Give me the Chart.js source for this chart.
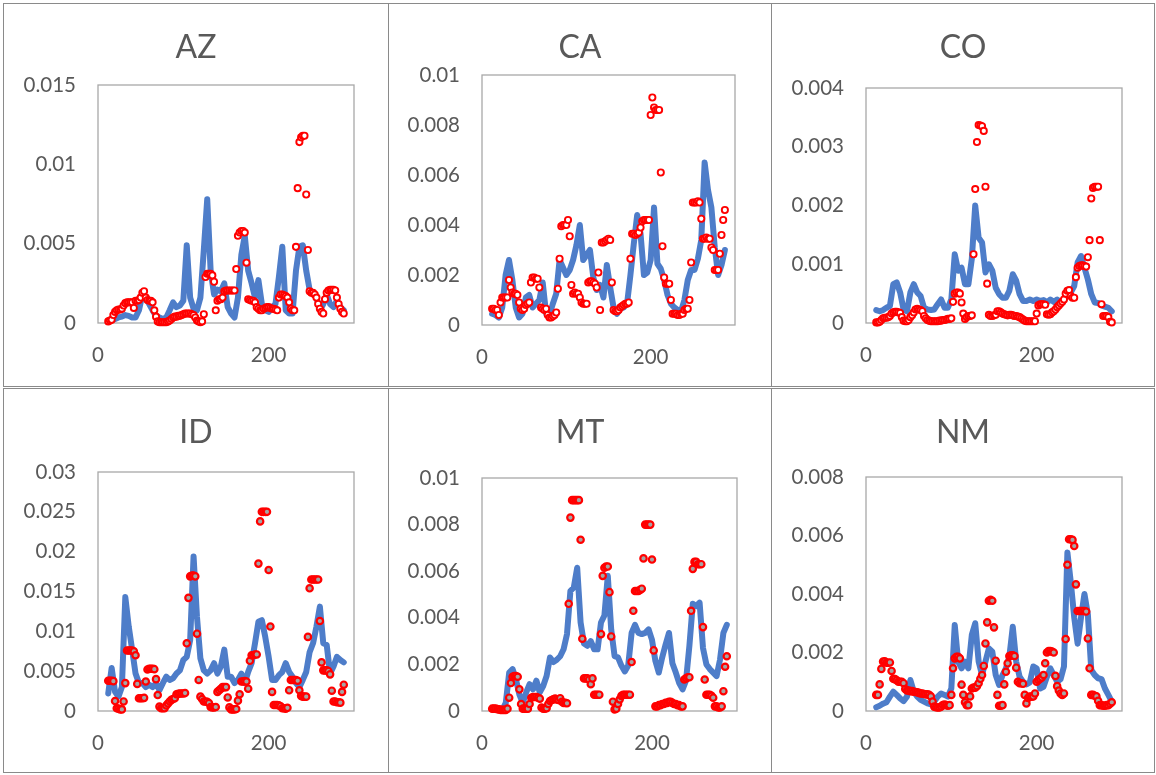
<!DOCTYPE html>
<html>
<head>
<meta charset="utf-8">
<script src="https://cdn.jsdelivr.net/npm/chart.js@4.4.1/dist/chart.umd.min.js"></script>
<style>
  html, body { margin: 0; padding: 0; background: #fff; }
  body { width: 1156px; height: 775px; position: relative; overflow: hidden; }
  .cell { position: absolute; box-sizing: border-box; border: 1px solid #8a8a8a; }
  .cell canvas { position: absolute; left: -1px; top: -1px; }
</style>
</head>
<body>
<div class="cell" style="left:3px;top:3px;width:386px;height:384px"><canvas id="az"></canvas></div>
<div class="cell" style="left:388px;top:3px;width:384px;height:384px"><canvas id="ca"></canvas></div>
<div class="cell" style="left:771px;top:3px;width:384px;height:384px"><canvas id="co"></canvas></div>
<div class="cell" style="left:3px;top:388px;width:386px;height:385px"><canvas id="id"></canvas></div>
<div class="cell" style="left:388px;top:388px;width:384px;height:385px"><canvas id="mt"></canvas></div>
<div class="cell" style="left:771px;top:388px;width:384px;height:385px"><canvas id="nm"></canvas></div>
<script>
// x = day of year. all y values below are in thousandths (the axis labels show the real numbers)
const lineDays = [12,16,20,24,28,32,36,40,44,48,52,56,60,64,68,72,76,80,84,88,
  92,96,100,104,108,112,116,120,124,128,132,136,140,144,148,152,156,160,164,168,
  172,176,180,184,188,192,196,200,204,208,212,216,220,224,228,232,236,240,244,248,
  252,256,260,264,268,272,276,280,284,288];
const markerDays = [12,14,16,18,20,22,24,26,28,30,32,34,36,38,40,42,44,46,48,50,
  52,54,56,58,60,62,64,66,68,70,72,74,76,78,80,82,84,86,88,90,
  92,94,96,98,100,102,104,106,108,110,112,114,116,118,120,122,124,126,128,130,
  132,134,136,138,140,142,144,146,148,150,152,154,156,158,160,162,164,166,168,170,
  172,174,176,178,180,182,184,186,188,190,192,194,196,198,200,202,204,206,208,210,
  212,214,216,218,220,222,224,226,228,230,232,234,236,238,240,242,244,246,248,250,
  252,254,256,258,260,262,264,266,268,270,272,274,276,278,280,282,284,286,288];
const xTicks = [0, 200];
const xMax = 300;

// AZ
const azLine = [0.1,0.2,0.25,0.35,0.4,0.5,0.45,0.35,0.35,0.8,
  1.8,1.6,1.2,0.8,0.45,0.35,0.25,0.35,0.8,1.3,
  1.0,1.1,1.4,4.9,1.6,0.9,0.8,1.6,4.6,7.8,
  3.3,1.8,2.1,2.0,2.5,1.0,0.6,0.35,1.6,4.3,
  5.5,3.3,2.5,1.6,2.7,1.2,0.8,0.7,1.0,1.2,
  2.9,4.8,0.8,0.6,0.6,3.3,4.8,4.9,3.3,2.1,
  1.9,1.6,0.8,1.2,1.8,1.2,1.0,1.4,1.0,0.8];
const azMarks = [0.1,0.15,0.2,0.5,0.7,0.8,0.85,0.85,0.9,1.1,
  1.25,1.3,1.3,1.3,1.3,0.95,1.4,1.4,1.45,1.6,
  1.9,2.0,1.6,1.45,1.4,1.4,1.3,0.8,0.4,0.1,
  0.05,0.05,0.05,0.05,0.05,0.1,0.15,0.25,0.35,0.4,
  0.4,0.45,0.45,0.5,0.55,0.6,0.6,0.6,0.6,0.55,
  0.5,0.35,0.15,0.1,0.05,0.1,0.55,2.9,3.1,3.1,
  3.1,3.0,2.6,0.8,1.4,1.5,1.5,1.6,2.0,2.05,
  2.05,2.05,2.05,2.05,2.05,3.4,5.5,5.7,5.8,5.8,
  5.7,3.8,1.5,1.45,1.4,1.4,1.3,1.0,0.9,0.8,
  0.8,0.9,0.95,1.0,1.0,0.95,0.9,0.9,0.85,0.8,
  1.6,1.8,1.8,1.75,1.7,1.6,1.3,0.9,0.8,0.8,
  4.8,8.5,11.4,11.7,11.8,11.8,8.1,4.6,2.0,1.9,
  1.9,1.8,1.6,1.2,0.9,0.7,0.6,1.5,1.9,2.05,
  2.1,2.1,2.1,2.05,1.6,1.2,0.9,0.7,0.6];

// CA
const caLine = [0.45,0.4,0.3,0.7,2.0,2.6,1.8,0.7,0.3,0.45,
  1.1,1.2,0.7,0.85,1.0,1.7,0.45,0.4,0.85,1.25,
  2.6,2.3,2.0,2.2,2.6,3.2,4.0,2.6,2.8,3.0,
  1.9,1.4,1.6,1.1,2.4,1.5,0.7,0.45,0.65,0.7,
  0.85,2.0,3.25,4.4,3.65,2.0,2.1,2.6,4.7,2.45,
  2.25,1.8,1.2,0.85,0.7,0.6,0.55,1.0,1.8,2.2,
  2.2,2.65,3.4,6.5,5.4,4.7,3.1,2.0,2.4,3.0];
const caMarks = [0.65,0.65,0.6,0.6,0.4,0.9,1.1,1.1,1.1,1.1,
  1.8,1.5,1.3,1.25,1.25,1.2,0.9,0.65,0.6,0.65,
  0.8,0.85,0.9,1.7,1.9,1.9,1.85,1.85,1.5,0.7,
  0.65,0.6,0.65,0.4,0.3,0.3,0.35,0.4,0.5,1.45,
  2.65,3.95,4.0,4.0,4.0,4.2,3.55,1.6,1.25,1.3,
  1.25,1.25,1.1,0.9,0.85,0.85,0.85,1.7,1.75,1.75,
  1.7,1.65,1.5,2.1,0.6,3.3,3.3,3.35,3.4,3.45,
  3.4,1.7,0.6,0.55,0.55,0.6,0.7,0.75,0.8,0.85,
  0.85,0.9,2.65,3.65,3.65,3.6,3.65,3.7,3.9,4.15,
  4.2,4.2,4.2,4.2,8.4,9.1,8.7,8.6,8.6,8.6,
  6.1,3.15,1.9,1.65,1.65,1.65,1.0,0.45,0.45,0.45,
  0.4,0.4,0.45,0.45,0.6,0.65,0.65,1.0,2.5,4.9,
  4.9,4.9,4.95,4.9,4.25,3.45,3.45,3.5,3.45,3.45,
  3.1,3.0,2.2,2.2,2.2,2.85,3.6,4.2,4.6];

// CO
const coLine = [0.22,0.2,0.22,0.26,0.29,0.66,0.69,0.52,0.23,0.2,
  0.52,0.66,0.52,0.46,0.26,0.23,0.22,0.23,0.32,0.4,
  0.26,0.26,0.4,1.17,0.89,0.94,0.66,0.66,1.09,2.0,
  1.45,1.37,0.86,1.0,0.89,0.6,0.49,0.43,0.43,0.55,
  0.83,0.72,0.49,0.375,0.375,0.4,0.375,0.4,0.375,0.39,
  0.35,0.4,0.36,0.4,0.35,0.4,0.46,0.52,0.63,1.03,
  1.14,0.94,0.74,0.49,0.35,0.34,0.3,0.28,0.26,0.2];
const coMarks = [0.01,0.01,0.02,0.05,0.08,0.09,0.09,0.1,0.12,0.16,
  0.18,0.19,0.19,0.18,0.17,0.1,0.04,0.03,0.03,0.05,
  0.1,0.13,0.18,0.23,0.24,0.23,0.22,0.2,0.12,0.08,
  0.05,0.04,0.03,0.03,0.03,0.03,0.03,0.04,0.04,0.05,
  0.05,0.06,0.07,0.07,0.08,0.36,0.5,0.52,0.52,0.5,
  0.35,0.16,0.07,0.1,0.12,0.12,0.13,1.17,2.28,3.08,
  3.37,3.36,3.35,3.27,2.32,0.67,0.14,0.12,0.12,0.13,
  0.14,0.2,0.2,0.18,0.16,0.15,0.14,0.13,0.14,0.14,
  0.13,0.12,0.12,0.11,0.1,0.08,0.06,0.04,0.03,0.03,
  0.03,0.03,0.03,0.03,0.16,0.3,0.32,0.32,0.32,0.31,
  0.15,0.14,0.15,0.18,0.2,0.23,0.27,0.3,0.33,0.36,
  0.4,0.5,0.55,0.56,0.46,0.43,0.43,0.78,0.94,0.97,
  0.98,0.98,0.97,0.96,1.12,1.41,2.12,2.3,2.32,2.32,
  2.32,1.41,0.32,0.12,0.12,0.12,0.1,0.02,0.01];

// ID
const idLine = [2.2,5.4,2.4,1.8,3.0,14.3,10.6,7.7,4.7,3.5,
  3.5,3.0,3.3,3.0,3.5,2.6,3.5,4.3,3.9,4.1,
  4.7,5.1,6.4,6.8,8.9,19.4,11.8,6.6,5.1,4.7,
  5.1,6.0,4.7,5.6,7.7,4.3,4.3,3.5,3.9,4.7,
  3.5,4.9,6.0,8.5,11.2,11.4,9.3,6.8,3.9,3.9,
  4.5,4.9,6.0,4.9,4.3,3.5,3.0,3.9,4.9,7.4,
  8.5,10.6,13.1,8.5,8.3,4.7,5.6,6.8,6.4,6.1];
const idMarks = [3.8,3.8,3.8,3.75,1.25,0.35,0.3,0.2,0.2,1.2,
  3.5,7.6,7.6,7.6,7.6,7.5,7.0,3.4,1.6,1.6,
  1.6,1.65,3.7,5.2,5.3,5.3,5.3,5.25,4.0,2.0,
  0.55,0.35,0.35,0.35,0.7,0.95,1.2,1.4,1.5,1.6,
  2.1,2.15,2.2,2.2,2.2,2.25,8.5,14.2,16.9,17.0,
  17.0,16.9,9.7,3.9,1.8,1.5,1.2,1.2,1.15,1.0,
  0.5,0.45,0.45,0.5,2.4,2.6,2.8,3.0,3.0,3.0,
  1.7,0.45,0.2,0.2,0.2,0.25,1.3,2.1,3.7,3.7,
  3.75,3.7,2.8,6.3,7.0,7.0,7.1,7.1,18.5,23.8,
  25.0,25.0,25.0,25.0,17.7,10.6,2.4,0.75,0.75,0.75,
  0.7,0.6,0.35,0.35,0.3,0.4,2.6,3.9,3.9,3.9,
  3.9,3.8,2.6,1.9,1.8,1.8,1.8,9.3,15.4,16.5,
  16.5,16.5,16.5,16.5,11.3,6.1,5.1,5.1,5.1,5.0,
  4.6,2.55,1.2,1.2,1.1,1.1,1.05,2.4,3.3];

// MT
const mtLine = [0.07,0.07,0.05,0.05,0.35,1.65,1.8,1.35,0.7,0.35,
  0.8,1.15,0.93,1.3,0.8,1.07,1.5,2.3,2.1,2.2,
  2.35,2.65,3.3,5.15,5.3,6.15,3.8,2.9,2.8,3.0,
  2.65,2.65,3.8,4.1,5.8,3.5,2.35,2.3,1.95,1.7,
  1.95,3.35,3.7,3.35,3.3,3.35,3.5,3.05,2.15,1.65,
  2.3,2.85,3.35,2.05,1.65,1.2,0.93,1.3,2.8,4.6,
  4.5,4.65,2.7,2.0,1.8,1.65,1.5,2.2,3.35,3.7];
const mtMarks = [0.1,0.1,0.1,0.08,0.07,0.05,0.05,0.05,0.05,0.1,
  0.57,1.2,1.47,1.5,1.5,1.47,0.93,0.3,0.1,0.1,
  0.1,0.1,0.3,0.57,0.6,0.6,0.6,0.57,0.53,0.15,
  0.1,0.1,0.12,0.3,0.43,0.47,0.5,0.53,0.5,0.47,
  0.55,0.4,0.35,0.35,0.33,4.6,8.3,9.05,9.05,9.05,
  9.05,9.05,7.35,3.1,1.4,1.4,1.4,1.35,1.15,1.4,
  0.7,0.7,0.7,0.7,3.3,5.8,6.15,6.2,6.2,5.1,
  3.2,0.4,0.07,0.1,0.3,0.5,0.65,0.7,0.7,0.7,
  0.7,0.7,2.1,4.3,5.15,5.15,5.15,5.2,5.25,6.55,
  8.0,8.0,8.0,8.0,6.5,2.6,0.2,0.2,0.25,0.25,
  0.3,0.3,0.35,0.35,0.4,0.4,0.35,0.3,0.3,0.25,
  0.25,0.2,0.2,1.35,1.4,1.45,1.45,4.3,6.1,6.4,
  6.4,6.3,6.3,6.3,3.6,1.35,0.7,0.7,0.7,0.65,
  0.57,0.2,0.2,0.15,0.15,0.2,0.85,1.9,2.35];

// NM
const nmLine = [0.13,0.18,0.25,0.3,0.49,0.66,0.55,0.43,0.34,0.49,
  1.06,0.66,0.49,0.38,0.32,0.26,0.23,0.32,0.49,0.6,
  0.55,0.49,0.77,2.94,1.69,1.46,1.69,1.46,2.6,3.0,
  1.69,1.23,1.69,2.14,2.03,1.23,0.89,1.23,1.46,1.86,
  2.88,1.69,1.17,1.0,0.91,0.98,1.52,1.46,0.77,0.83,
  1.17,1.46,1.23,1.0,1.09,1.52,5.42,4.4,3.2,2.3,
  3.2,4.0,3.3,1.4,1.23,1.12,1.09,0.77,0.55,0.32];
const nmMarks = [0.55,0.55,0.91,1.44,1.69,1.7,1.65,1.65,1.66,1.37,
  1.1,1.09,1.05,1.0,1.0,1.0,0.95,0.75,0.7,0.7,
  0.68,0.68,0.66,0.65,0.64,0.62,0.6,0.6,0.58,0.57,
  0.57,0.55,0.5,0.32,0.15,0.13,0.12,0.12,0.15,0.2,
  0.22,0.2,0.18,0.2,0.55,1.46,1.8,1.85,1.85,1.8,
  0.9,0.55,0.3,0.2,0.2,0.5,0.77,0.8,0.8,0.85,
  0.95,1.1,1.23,1.54,2.31,3.03,3.77,3.8,3.77,2.86,
  1.72,0.55,0.18,0.18,0.2,0.91,1.34,1.63,1.88,1.9,
  1.9,1.88,1.48,1.0,0.95,0.95,0.93,0.55,0.26,0.45,
  0.49,0.49,0.5,0.6,1.0,1.06,1.1,1.15,1.23,1.63,
  2.0,2.05,2.05,2.03,2.0,1.2,0.85,0.7,0.6,0.55,
  0.6,2.46,5.0,5.87,5.87,5.85,5.64,4.33,3.42,3.42,
  3.42,3.42,3.42,3.4,2.48,1.46,0.55,0.55,0.52,0.5,
  0.35,0.2,0.2,0.18,0.18,0.2,0.2,0.25,0.3];

// y ticks (thousandths) and the labels printed beside them
const azTicks = [0, 5, 10, 15];
const azLabels = ['0', '0.005', '0.01', '0.015'];
const caTicks = [0, 2, 4, 6, 8, 10];
const caLabels = ['0', '0.002', '0.004', '0.006', '0.008', '0.01'];
const coTicks = [0, 1, 2, 3, 4];
const coLabels = ['0', '0.001', '0.002', '0.003', '0.004'];
const idTicks = [0, 5, 10, 15, 20, 25, 30];
const idLabels = ['0', '0.005', '0.01', '0.015', '0.02', '0.025', '0.03'];
const mtTicks = [0, 2, 4, 6, 8, 10];
const mtLabels = ['0', '0.002', '0.004', '0.006', '0.008', '0.01'];
const nmTicks = [0, 2, 4, 6, 8];
const nmLabels = ['0', '0.002', '0.004', '0.006', '0.008'];

const FONT = 'Lato, "Open Sans", sans-serif';
const TEXT = '#595959';
const BLUE = '#4e7dc9';
const RED = '#ff0000';
const WHITE = '#ffffff';
const GRAY = '#a5a5a5';

// plot area frame
const frame = {
  id: 'frame',
  beforeDatasetsDraw(chart) {
    const { ctx, chartArea: a } = chart;
    ctx.save();
    ctx.strokeStyle = '#a8a8a8';
    ctx.lineWidth = 1.3;
    ctx.strokeRect(a.left, a.top, a.right - a.left, a.bottom - a.top);
    ctx.restore();
  }
};

function drawPanel(id, title, line, marks, yTicks, yLabels, box, fill) {
  const canvas = document.getElementById(id);
  canvas.width = box.w;
  canvas.height = box.h;
  const hollow = fill === WHITE;

  new Chart(canvas, {
    type: 'scatter',
    data: {
      datasets: [
        {
          data: marks.map((v, i) => ({ x: markerDays[i], y: v })),
          showLine: false,
          pointStyle: 'circle',
          pointRadius: hollow ? 3.1 : 3.2,
          pointBorderWidth: hollow ? 1.9 : 2.2,
          pointBorderColor: RED,
          pointBackgroundColor: fill,
          order: 0,
          clip: false
        },
        {
          data: line.map((v, i) => ({ x: lineDays[i], y: v })),
          showLine: true,
          borderColor: BLUE,
          borderWidth: 6,
          borderJoinStyle: 'round',
          borderCapStyle: 'round',
          tension: 0,
          pointRadius: 0,
          order: 1,
          clip: false
        }
      ]
    },
    options: {
      responsive: false,
      animation: false,
      events: [],
      layout: { padding: { left: 0, right: 0, top: 0, bottom: box.h - box.bottom - 40 } },
      plugins: {
        legend: { display: false },
        tooltip: { enabled: false },
        title: {
          display: true,
          text: title,
          color: TEXT,
          font: { family: FONT, size: 32, weight: 'normal', lineHeight: 1.2 },
          padding: { top: 25.8, bottom: box.top - 25.8 - 38.4 }
        }
      },
      scales: {
        x: {
          type: 'linear',
          min: 0,
          max: xMax,
          grid: { display: false, drawTicks: false },
          border: { display: false },
          ticks: { color: TEXT, font: { family: FONT, size: 20.5 }, padding: 20, maxRotation: 0 },
          afterBuildTicks: s => { s.ticks = xTicks.map(v => ({ value: v })); },
          afterFit: s => { s.height = 40; }
        },
        y: {
          min: 0,
          max: yTicks[yTicks.length - 1],
          grid: { display: false, drawTicks: false },
          border: { display: false },
          ticks: {
            color: TEXT,
            font: { family: FONT, size: 20.5 },
            padding: 22,
            callback: (v, i) => yLabels[i]
          },
          afterBuildTicks: s => { s.ticks = yTicks.map(v => ({ value: v })); },
          afterFit: s => { s.width = box.left; }
        },
        // empty right-hand axis that only reserves the margin, so the title stays centred
        yr: {
          type: 'linear',
          position: 'right',
          grid: { display: false, drawTicks: false },
          border: { display: false },
          ticks: { display: false },
          afterFit: s => { s.width = box.w - box.right; }
        }
      }
    },
    plugins: [frame]
  });
}

drawPanel('az', 'AZ', azLine, azMarks, azTicks, azLabels, { w: 386, h: 384, left: 95, right: 351, top: 82, bottom: 320 }, WHITE);
drawPanel('ca', 'CA', caLine, caMarks, caTicks, caLabels, { w: 384, h: 384, left: 94, right: 347, top: 72, bottom: 322 }, WHITE);
drawPanel('co', 'CO', coLine, coMarks, coTicks, coLabels, { w: 384, h: 384, left: 95, right: 351, top: 85, bottom: 320 }, WHITE);
drawPanel('id', 'ID', idLine, idMarks, idTicks, idLabels, { w: 386, h: 385, left: 95, right: 351, top: 84, bottom: 323 }, GRAY);
drawPanel('mt', 'MT', mtLine, mtMarks, mtTicks, mtLabels, { w: 384, h: 385, left: 94, right: 349, top: 90, bottom: 323 }, GRAY);
drawPanel('nm', 'NM', nmLine, nmMarks, nmTicks, nmLabels, { w: 384, h: 385, left: 95, right: 351, top: 89, bottom: 323 }, GRAY);
</script>
</body>
</html>
